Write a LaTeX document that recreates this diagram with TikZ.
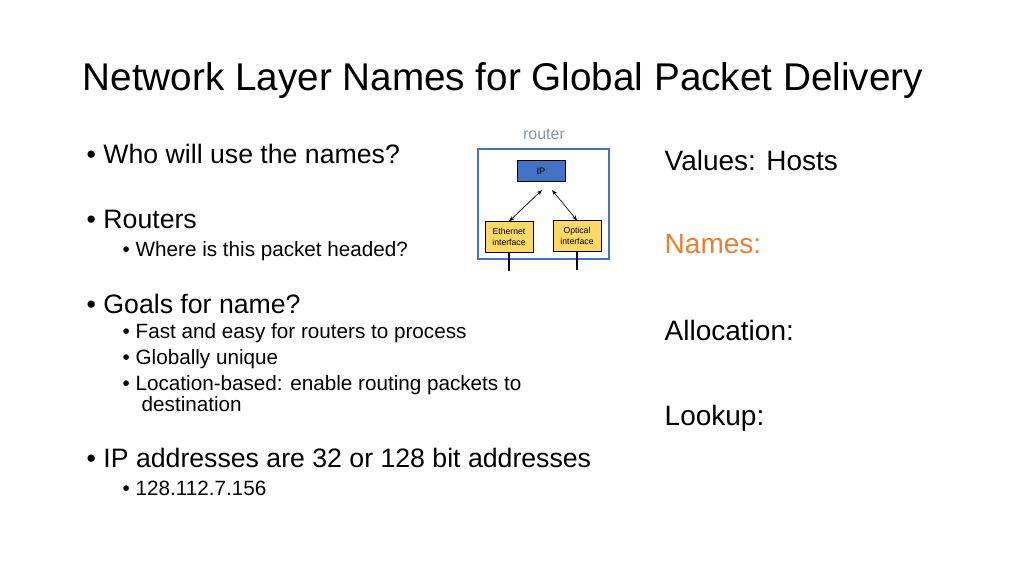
\documentclass[tikz,border=0pt]{standalone}
\usepackage{fontspec}
\setmainfont{Liberation Sans}
\usetikzlibrary{arrows.meta}
\colorlet{ipblue}{blue!55!cyan!70!black}
\definecolor{ipblue}{HTML}{4472C4}
\definecolor{ifyellow}{HTML}{FFD966}
\definecolor{namecolor}{HTML}{ED7D31}
\definecolor{routergray}{HTML}{8497B0}
\tikzstyle{lone}=[anchor=base west,font=\fontsize{20}{24}\selectfont]
\tikzstyle{ltwo}=[anchor=base west,font=\fontsize{15.5}{16}\selectfont]
\tikzstyle{rcol}=[anchor=base west,font=\fontsize{21}{24}\selectfont]
\tikzstyle{iface}=[draw,fill=ifyellow,line width=.4pt,minimum width=36pt,minimum height=23pt,inner sep=1pt,align=center,font=\fontsize{6.5}{8.5}\selectfont]
\tikzstyle{link}=[line width=.5pt,{Stealth[length=4pt]}-{Stealth[length=4pt]}]
\begin{document}
\begin{tikzpicture}[x=0.75pt,y=-0.75pt]
	\useasboundingbox (0,0) rectangle (1024,576);
	\node[anchor=base west,font=\fontsize{29}{32}\selectfont] (title) at (78,90) {Network Layer Names for Global Packet Delivery};
	% left column
	\node[lone] (who)   at (82,163) {\textbullet\ Who will use the names?};
	\node[lone] (rout)  at (82,228) {\textbullet\ Routers};
	\node[ltwo] (where) at (118,256) {\textbullet\ Where is this packet headed?};
	\node[lone] (goals) at (82,313) {\textbullet\ Goals for name?};
	\node[ltwo] (fast)  at (118,338) {\textbullet\ Fast and easy for routers to process};
	\node[ltwo] (glob)  at (118,364) {\textbullet\ Globally unique};
	\node[ltwo] (loc)   at (118,390) {\textbullet\ Location-based: enable routing packets to};
	\node[ltwo] (dest)  at (137,411) {destination};
	\node[lone] (ipa)   at (82,467) {\textbullet\ IP addresses are 32 or 128 bit addresses};
	\node[ltwo] (num)   at (118,495) {\textbullet\ 128.112.7.156};
	% right column
	\node[rcol] (val)   at (660,170) {Values: Hosts};
	\node[rcol,text=namecolor] (nam) at (660,253) {Names:};
	\node[rcol] (alloc) at (660,340) {Allocation:};
	\node[rcol] (look)  at (660,425) {Lookup:};
	% router
	\node[font=\fontsize{12}{14}\selectfont,text=routergray,anchor=base] (rlab) at (544,139) {router};
	\draw[ipblue,line width=1.3pt] (478,149) rectangle (609,259);
	\node[draw,fill=ipblue,minimum width=36pt,minimum height=16pt,inner sep=0pt,font=\fontsize{7}{8}\selectfont] (ip) at (541,171) {IP};
	\node[iface] (eth) at (509,237) {Ethernet\\interface};
	\node[iface] (opt) at (577,236) {Optical\\interface};
	\draw[link] (542,190) -- (eth.north);
	\draw[link] (552,190) -- (opt.north);
	\draw[line width=1.5pt] (eth.south) -- ++(0,18);
	\draw[line width=1.5pt] (opt.south) -- ++(0,18);
\end{tikzpicture}
\end{document}
